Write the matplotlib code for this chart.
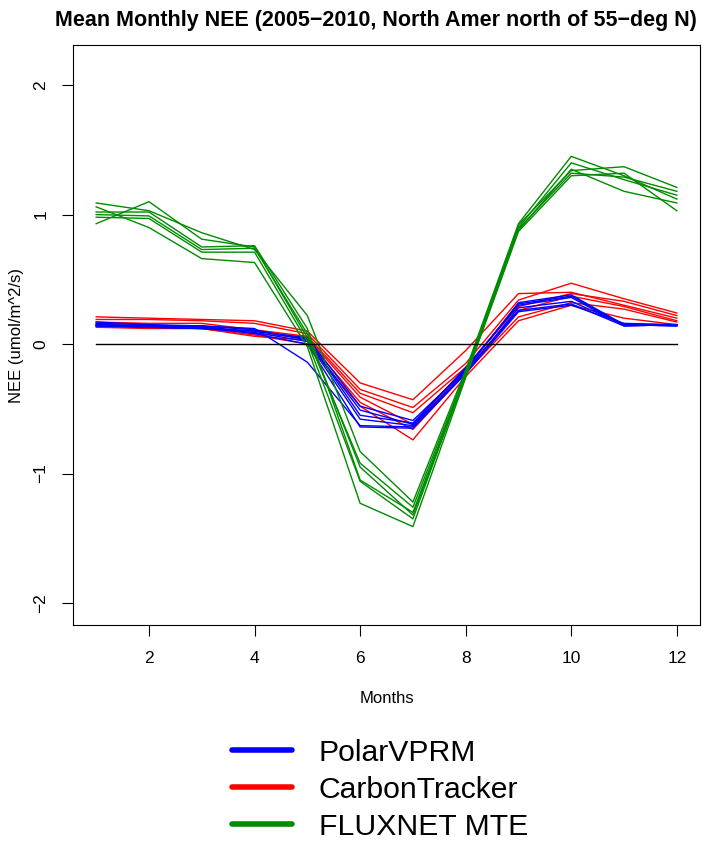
import matplotlib
matplotlib.use('Agg')
import matplotlib.pyplot as plt
from matplotlib.lines import Line2D

plt.rcParams['font.family'] = ['Liberation Sans', 'DejaVu Sans']

months = list(range(1, 13))

# PolarVPRM, one line per year (2005-2010)
polar_vprm = [
    [0.15, 0.14, 0.13, 0.10, 0.05, -0.48, -0.59, -0.20, 0.32, 0.38, 0.15, 0.15],
    [0.16, 0.15, 0.14, 0.11, 0.03, -0.51, -0.62, -0.18, 0.30, 0.36, 0.14, 0.15],
    [0.14, 0.13, 0.12, 0.09, 0.02, -0.58, -0.63, -0.22, 0.28, 0.33, 0.15, 0.14],
    [0.15, 0.14, 0.14, 0.12, -0.14, -0.63, -0.64, -0.21, 0.26, 0.31, 0.14, 0.15],
    [0.17, 0.15, 0.13, 0.08, 0.00, -0.64, -0.65, -0.23, 0.25, 0.30, 0.16, 0.15],
    [0.14, 0.13, 0.12, 0.10, 0.04, -0.55, -0.61, -0.19, 0.31, 0.37, 0.15, 0.14],
]

# CarbonTracker
carbon_tracker = [
    [0.21, 0.20, 0.19, 0.18, 0.10, -0.30, -0.43, -0.05, 0.39, 0.40, 0.30, 0.20],
    [0.19, 0.19, 0.18, 0.16, 0.08, -0.35, -0.49, -0.15, 0.34, 0.47, 0.35, 0.24],
    [0.17, 0.16, 0.16, 0.11, 0.06, -0.38, -0.53, -0.18, 0.29, 0.39, 0.33, 0.22],
    [0.15, 0.14, 0.14, 0.08, 0.05, -0.41, -0.62, -0.20, 0.26, 0.37, 0.29, 0.18],
    [0.14, 0.13, 0.12, 0.06, 0.03, -0.45, -0.66, -0.22, 0.21, 0.32, 0.27, 0.17],
    [0.13, 0.12, 0.12, 0.07, 0.00, -0.48, -0.74, -0.25, 0.18, 0.30, 0.20, 0.15],
]

# FLUXNET MTE
fluxnet_mte = [
    [1.09, 1.03, 0.86, 0.73, 0.22, -0.83, -1.22, -0.20, 0.93, 1.45, 1.30, 1.12],
    [0.93, 1.10, 0.81, 0.75, 0.05, -0.92, -1.26, -0.22, 0.92, 1.34, 1.37, 1.21],
    [1.02, 1.02, 0.75, 0.76, 0.12, -1.05, -1.30, -0.23, 0.90, 1.40, 1.27, 1.15],
    [1.00, 0.99, 0.73, 0.74, 0.08, -0.95, -1.32, -0.25, 0.89, 1.32, 1.29, 1.18],
    [0.98, 0.97, 0.71, 0.71, 0.02, -1.06, -1.35, -0.24, 0.88, 1.35, 1.18, 1.09],
    [1.06, 0.90, 0.66, 0.63, -0.02, -1.23, -1.41, -0.26, 0.87, 1.30, 1.32, 1.03],
]

series_names = ['PolarVPRM', 'CarbonTracker', 'FLUXNET MTE']
series_colors = ['#0000FF', '#FF0000', '#008B00']

fig = plt.figure(figsize=(7.05, 8.43), dpi=100)
ax = fig.add_axes([0.1035, 0.2586, 0.8895, 0.688])

for vals in carbon_tracker:
    ax.plot(months, vals, color=series_colors[1], lw=1.0)
for vals in polar_vprm:
    ax.plot(months, vals, color=series_colors[0], lw=1.0)
for vals in fluxnet_mte:
    ax.plot(months, vals, color=series_colors[2], lw=1.0)

ax.plot([1, 12], [0, 0], color='black', lw=1.0)

ax.set_xlim(0.56, 12.44)
ax.set_ylim(-2.17, 2.31)
ax.set_xticks([2, 4, 6, 8, 10, 12])
ax.set_yticks([-2, -1, 0, 1, 2])
ax.set_yticklabels(['\u22122', '\u22121', '0', '1', '2'], rotation=90, va='center')
ax.tick_params(labelsize=12.5, length=7.7, width=0.8)
ax.tick_params(axis='x', pad=11)
ax.tick_params(axis='y', pad=10)
for s in ax.spines.values():
    s.set_linewidth(0.8)

ax.set_xlabel('Months', fontsize=12, labelpad=18)
ax.set_ylabel('NEE (umol/m^2/s)', fontsize=12, labelpad=7)
fig.text(0.5335, 0.976, 'Mean Monthly NEE (2005\u22122010, North Amer north of 55\u2212deg N)',
         ha='center', va='center', fontsize=15.5, fontweight='bold')

handles = [Line2D([], [], color=c, lw=4, solid_capstyle='round') for c in series_colors]
fig.legend(handles, series_names, loc='upper left', bbox_to_anchor=(0.307, 0.1415),
           frameon=False, fontsize=21.7, handlelength=2.0, handletextpad=0.9,
           labelspacing=0.3, borderpad=0)

fig.savefig('out.png', dpi=100)
